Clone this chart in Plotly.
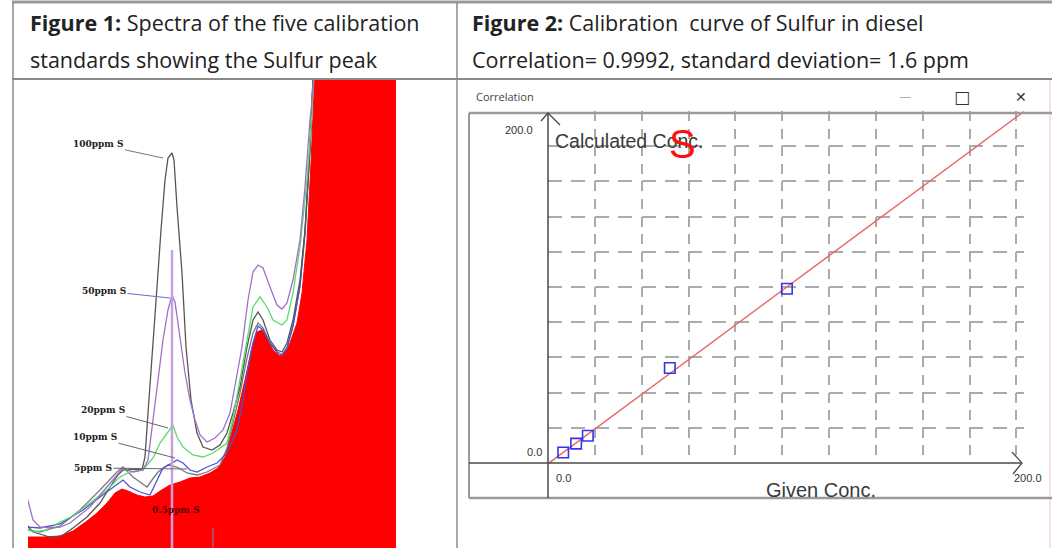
import plotly.graph_objects as go

W, H = 1052, 548
def PX(x): return x / W
def PY(y): return 1 - y / H

# ---------------- DATA ----------------
# Figure 1: spectra of calibration standards (channel, intensity)
ch_05 = [27, 43, 60, 73, 87, 97, 107, 115, 122, 128, 137, 145, 153, 160, 170, 180, 190, 200, 210, 218, 225, 232, 238, 245, 252, 257, 262, 267, 273, 280, 285, 290, 297, 302, 307, 311, 315, 396]
int_05 = [11, 11, 12, 17, 27, 35, 45, 55, 59, 57, 53, 51, 52, 57, 63, 66, 70, 71, 75, 80, 91, 115, 138, 168, 201, 216, 218, 210, 198, 192, 196, 205, 225, 255, 308, 385, 480, 480]

ch_5 = [27, 40, 60, 80, 100, 117, 123, 133, 140, 147, 152, 158, 168, 177, 187, 197, 207, 220, 227, 233, 240, 247, 253, 258, 263, 270, 277, 282, 287, 293, 300, 305, 310, 313, 315]
int_5 = [18, 16, 22, 38, 58, 76, 81, 71, 66, 61, 68, 76, 83, 81, 75, 73, 76, 83, 100, 125, 155, 190, 215, 225, 220, 205, 196, 193, 200, 222, 262, 315, 400, 468, 480]

ch_10 = [27, 40, 60, 83, 100, 113, 123, 130, 140, 150, 157, 163, 172, 177, 183, 190, 197, 207, 217, 227, 237, 243, 248, 253, 258, 263, 270, 277, 282, 287, 293, 300, 305, 310, 313, 315]
int_10 = [21, 20, 24, 38, 51, 61, 68, 61, 56, 53, 68, 80, 85, 88, 85, 78, 76, 81, 85, 95, 118, 148, 180, 205, 222, 218, 205, 196, 193, 200, 222, 262, 315, 400, 468, 480]

ch_20 = [27, 33, 47, 60, 73, 90, 107, 120, 130, 143, 153, 160, 168, 173, 177, 183, 193, 203, 213, 227, 233, 240, 247, 253, 260, 267, 273, 282, 287, 293, 300, 307, 312, 314]
int_20 = [20, 16, 18, 26, 32, 45, 58, 71, 76, 78, 90, 105, 116, 123, 111, 101, 93, 91, 95, 105, 130, 168, 208, 241, 251, 241, 228, 223, 228, 255, 301, 368, 435, 480]

ch_50 = [27, 30, 33, 40, 50, 60, 70, 80, 90, 100, 110, 118, 123, 133, 143, 148, 153, 158, 163, 168, 172, 175, 180, 185, 190, 195, 200, 207, 215, 223, 230, 235, 242, 248, 253, 258, 263, 270, 277, 282, 287, 293, 300, 305, 310, 313, 315]
int_50 = [51, 40, 28, 21, 20, 21, 25, 33, 41, 53, 65, 75, 80, 76, 78, 88, 128, 168, 208, 238, 253, 246, 208, 175, 148, 128, 113, 106, 110, 118, 135, 161, 201, 248, 276, 283, 280, 261, 243, 239, 245, 268, 308, 361, 428, 458, 480]

ch_100 = [27, 33, 43, 53, 63, 73, 87, 100, 110, 118, 123, 133, 142, 145, 148, 153, 157, 161, 165, 168, 172, 174, 177, 182, 186, 191, 197, 203, 212, 220, 227, 233, 240, 247, 253, 258, 263, 270, 277, 282, 287, 293, 300, 305, 310, 313, 315]
int_100 = [23, 16, 13, 10, 13, 20, 31, 45, 61, 73, 78, 79, 78, 91, 135, 201, 261, 318, 368, 390, 395, 388, 341, 275, 201, 148, 115, 101, 98, 103, 115, 135, 161, 201, 228, 236, 228, 208, 198, 196, 205, 228, 268, 318, 401, 468, 480]

# ROI cursor markers
cursor_ch = [172, 213]
cursor_top = [298, 20]

# labels
label_text = ["100ppm S", "50ppm S", "20ppm S", "10ppm S", "5ppm S"]
label_ch = [163, 170, 168, 175, 187]
label_int = [390, 250, 120, 90, 79]

# Figure 2: calibration curve
given_conc = [6.5, 12, 17, 52, 102]
calc_conc = [6, 11, 15.5, 54, 99]
fit_given = [0, 205]
fit_calc = [-0.4, 201.5]
axis_labels = ["0.0", "200.0"]

# ---------------- FIGURE ----------------
fig = go.Figure()

fig.add_trace(go.Scatter(x=ch_05, y=int_05, mode="lines", fill="tozeroy",
                         fillcolor="#ff0000", line=dict(color="#ff0000", width=1),
                         xaxis="x", yaxis="y", hoverinfo="skip"))
spec = [(ch_5, int_5, "#7a7a7a"), (ch_10, int_10, "#5050d8"), (ch_100, int_100, "#555555"),
        (ch_20, int_20, "#55dd66"), (ch_50, int_50, "#a070c8")]
for cx, cy, col in spec:
    fig.add_trace(go.Scatter(x=cx, y=cy, mode="lines", line=dict(color=col, width=1.3),
                             xaxis="x", yaxis="y", hoverinfo="skip"))
for i, (c, t) in enumerate(zip(cursor_ch, cursor_top)):
    fig.add_trace(go.Scatter(x=[c, c], y=[0, t], mode="lines",
                             line=dict(color="#c8a0dc" if i == 0 else "#8080c8", width=2.5 if i == 0 else 1),
                             xaxis="x", yaxis="y", hoverinfo="skip"))

# calibration
fig.add_trace(go.Scatter(x=fit_given, y=fit_calc, mode="lines",
                         line=dict(color="#e86a6a", width=1.5), xaxis="x2", yaxis="y2"))
fig.add_trace(go.Scatter(x=given_conc, y=calc_conc, mode="markers",
                         marker=dict(symbol="square-open", size=10.5, color="#3434e8",
                                     line=dict(width=1.6, color="#3434e8")),
                         xaxis="x2", yaxis="y2"))

annotations = []
hdr_font = dict(family="Open Sans", size=21.5, color="#222222")
hdr = [
    dict(text="<b>Figure 1:</b> Spectra of the five calibration", x=PX(28), y=PY(22)),
    dict(text="standards showing the Sulfur peak", x=PX(28), y=PY(60)),
    dict(text="<b>Figure 2:</b> Calibration  curve of Sulfur in diesel", x=PX(470), y=PY(22)),
    dict(text="Correlation= 0.9992, standard deviation= 1.6 ppm", x=PX(470), y=PY(60)),
]
for a in hdr:
    a.update(xref="paper", yref="paper", xanchor="left", yanchor="middle", showarrow=False, font=hdr_font)
annotations += hdr

# spectrum labels with leader lines
offsets = [(-65, -14), (-66, -7), (-65, -18), (-80, -21), (-94, -1)]
arrow_cols = ["#777777", "#6a6ad0", "#666666", "#666666", "#666666"]
for t, cx, cy, (ox, oy), ac in zip(label_text, label_ch, label_int, offsets, arrow_cols):
    annotations.append(dict(text="<b>%s</b>" % t, x=cx, y=cy, xref="x", yref="y",
                            ax=ox, ay=oy, showarrow=True, arrowhead=0, arrowwidth=1,
                            arrowcolor=ac, font=dict(family="DejaVu Serif", size=9, color="#222")))
annotations.append(dict(text="<b>0.5ppm S</b>", x=175, y=38, xref="x", yref="y", showarrow=False,
                        xanchor="center", font=dict(family="DejaVu Serif", size=9, color="#5a0000")))

# window / chart texts
small = dict(family="Liberation Sans", size=11, color="#333333")
win = [
    dict(text="Correlation", x=PX(474), y=PY(97), xanchor="left",
         font=dict(family="Open Sans", size=11, color="#444")),
    dict(text="—", x=PX(905), y=PY(97), font=dict(family="DejaVu Sans", size=12, color="#b0b0b0")),
    dict(text="□", x=PX(962), y=PY(97), font=dict(family="DejaVu Sans", size=17, color="#333")),
    dict(text="✕", x=PX(1021), y=PY(97), font=dict(family="DejaVu Sans", size=14, color="#333")),
    dict(text=axis_labels[1], x=PX(519), y=PY(130), font=small),
    dict(text=axis_labels[0], x=PX(534), y=PY(452), font=small),
    dict(text=axis_labels[0], x=PX(563), y=PY(478), font=small),
    dict(text=axis_labels[1], x=PX(1028), y=PY(478), font=small),
    dict(text="Calculated Conc.", x=PX(553), y=PY(141), xanchor="left",
         font=dict(family="Liberation Sans", size=19.5, color="#3a3a3a")),
    dict(text="Given Conc.", x=PX(821), y=PY(490),
         font=dict(family="Liberation Sans", size=20, color="#3a3a3a")),
    dict(text="S", x=PX(682), y=PY(144), font=dict(family="Liberation Sans", size=40, color="#ff1010")),
]
for a in win:
    a.setdefault("xanchor", "center")
    a.update(xref="paper", yref="paper", showarrow=False, yanchor="middle")
annotations += win

def seg(x0, y0, x1, y1, color, width):
    return dict(type="line", xref="paper", yref="paper", x0=PX(x0), y0=PY(y0), x1=PX(x1), y1=PY(y1),
                line=dict(color=color, width=width), layer="above")

shapes = [
    seg(12, 2, 1052, 2, "#9a9a9a", 3),
    seg(13, 2, 13, 548, "#8a8a8a", 1.5),
    seg(12, 79, 1052, 79, "#8a8a8a", 2),
    seg(457, 2, 457, 548, "#8a8a8a", 1.5),
    seg(1050, 80, 1050, 548, "#f2c4c4", 1),
    seg(469, 113, 1052, 113, "#9a9a9a", 2.5),
    seg(469, 113, 469, 498, "#9a9a9a", 2),
    seg(469, 498, 1052, 498, "#9a9a9a", 2.5),
    seg(548, 113, 548, 498, "#4a4a4a", 1.5),
    seg(469, 463, 1021, 463, "#4a4a4a", 1.5),
    dict(type="path", xref="paper", yref="paper",
         path="M %f,%f L %f,%f L %f,%f" % (PX(541), PY(121), PX(548), PY(113), PX(560), PY(125)),
         line=dict(color="#4a4a4a", width=1.3), layer="above"),
    dict(type="path", xref="paper", yref="paper",
         path="M %f,%f L %f,%f L %f,%f" % (PX(1012), PY(452), PX(1022), PY(463), PX(1013), PY(474)),
         line=dict(color="#4a4a4a", width=1.3), layer="above"),
]

fig.update_layout(
    width=W, height=H, margin=dict(l=0, r=0, t=0, b=0),
    paper_bgcolor="white", plot_bgcolor="white", showlegend=False,
    xaxis=dict(domain=[PX(28), PX(456)], range=[28, 456], visible=False),
    yaxis=dict(domain=[0, PY(80)], range=[0, 468], visible=False),
    xaxis2=dict(domain=[PX(548), PX(1023.5)], range=[0, 203], anchor="y2",
                showgrid=True, gridcolor="#ababab", gridwidth=1.5, griddash="10px,7.6px",
                tick0=0, dtick=20, showticklabels=False, ticks="", zeroline=False, showline=False),
    yaxis2=dict(domain=[PY(463), PY(111)], range=[0, 200], anchor="x2",
                showgrid=True, gridcolor="#ababab", gridwidth=1.5, griddash="14px,9.4px",
                tick0=0, dtick=20, showticklabels=False, ticks="", zeroline=False, showline=False),
    annotations=annotations, shapes=shapes,
)

fig.write_html("out.html", config={"displayModeBar": False},
               post_script="document.body.style.margin='0px';document.body.style.overflow='hidden';")
